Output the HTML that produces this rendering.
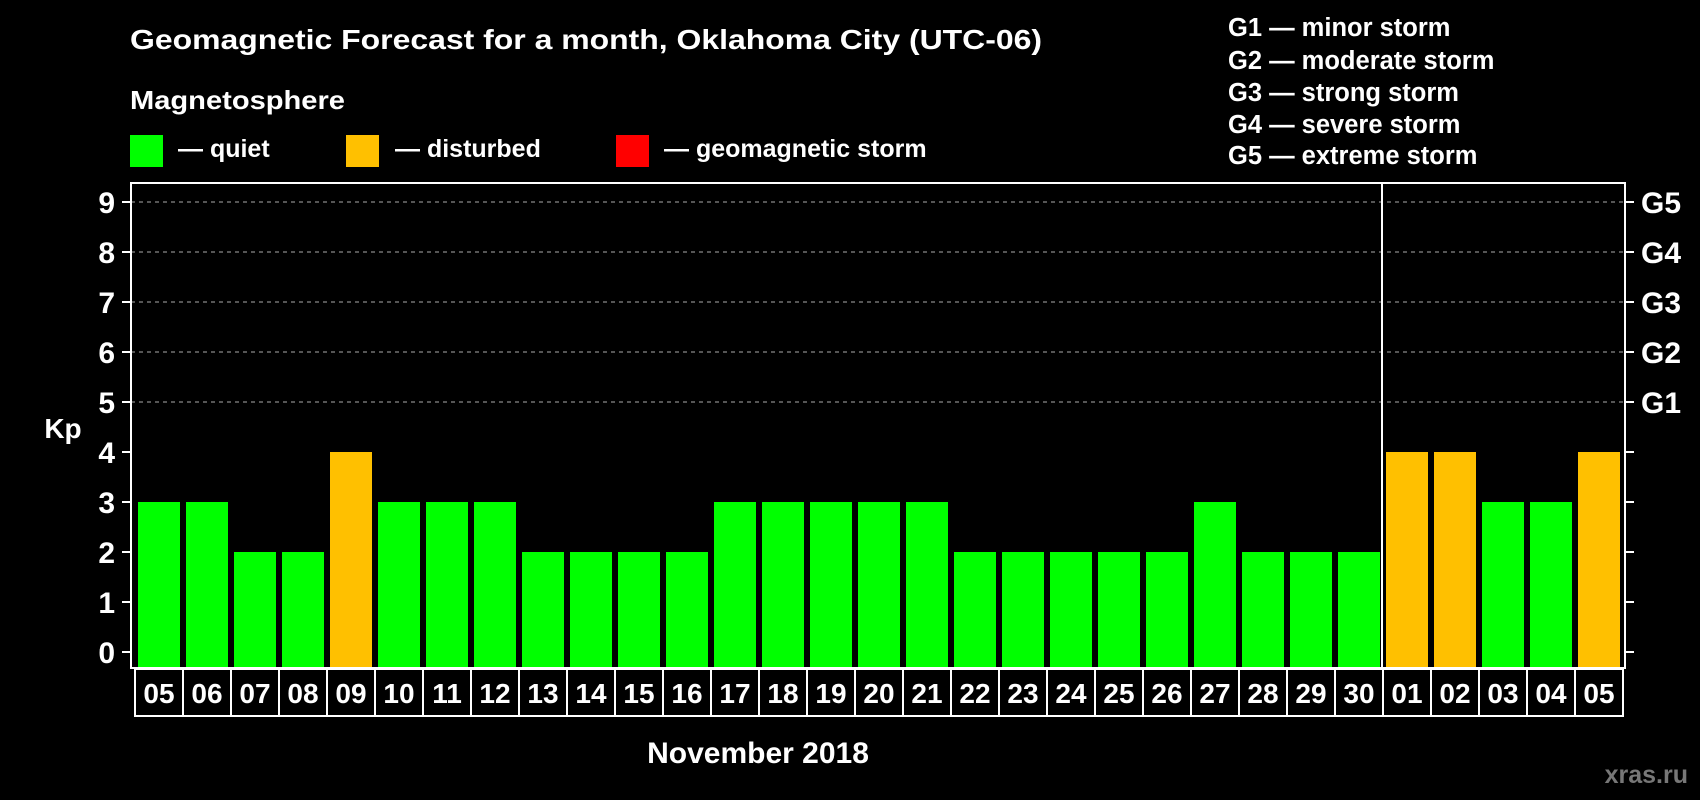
<!DOCTYPE html>
<html><head><meta charset="utf-8"><style>
html,body{margin:0;padding:0;background:#000;width:1700px;height:800px;overflow:hidden}
text{font-family:"Liberation Sans",Arial,sans-serif;font-weight:bold;fill:#fff}
</style></head><body>
<svg id="chart" width="1700" height="800" viewBox="0 0 1700 800">
<text x="130" y="49" font-size="28" textLength="912" lengthAdjust="spacingAndGlyphs">Geomagnetic Forecast for a month, Oklahoma City (UTC-06)</text>
<text x="130" y="109" font-size="26" textLength="215" lengthAdjust="spacingAndGlyphs">Magnetosphere</text>
<g>
<rect x="130" y="135" width="33" height="32" fill="#00ff00"/>
<text x="178" y="157" font-size="25">— quiet</text>
<rect x="346" y="135" width="33" height="32" fill="#ffc000"/>
<text x="395" y="157" font-size="25">— disturbed</text>
<rect x="616" y="135" width="33" height="32" fill="#ff0000"/>
<text x="664" y="157" font-size="25">— geomagnetic storm</text>
</g>
<g>
<text x="1228" y="36" font-size="25.5">G1 — minor storm</text>
<text x="1228" y="69" font-size="25.5">G2 — moderate storm</text>
<text x="1228" y="101" font-size="25.5">G3 — strong storm</text>
<text x="1228" y="133" font-size="25.5">G4 — severe storm</text>
<text x="1228" y="164" font-size="25.5">G5 — extreme storm</text>
</g>
<text x="63" y="438" font-size="28" text-anchor="middle">Kp</text>
<text x="758" y="763" font-size="30" text-anchor="middle">November 2018</text>
<text x="1688" y="783" font-size="25" text-anchor="end" style="fill:#777">xras.ru</text>
<g id="grid"></g><g id="bars"></g><g id="axes"></g>
</svg>
<script>
const days = ["05","06","07","08","09","10","11","12","13","14","15","16","17","18","19","20","21","22","23","24","25","26","27","28","29","30","01","02","03","04","05"];
const kpValues = [3,3,2,2,4,3,3,3,2,2,2,2,3,3,3,3,3,2,2,2,2,2,3,2,2,2,4,4,3,3,4];
const yTicks = [0,1,2,3,4,5,6,7,8,9];
const gLabels = ["G1","G2","G3","G4","G5"];
const gLevels = [5,6,7,8,9];
const monthBreakIndex = 26;
const NS="http://www.w3.org/2000/svg";
const L=131,R=1625,T=183,B=668,slot0=134,slotW=48;
function y(v){return 652 - v*50;}
function xs(i){return slot0 + i*slotW;}
function color(v){return v>=5?"#ff0000":(v>=4?"#ffc000":"#00ff00");}
function mk(tag,attrs,parent){const e=document.createElementNS(NS,tag);for(const k in attrs)e.setAttribute(k,attrs[k]);parent.appendChild(e);return e;}
const grid=document.getElementById('grid'),bars=document.getElementById('bars'),axes=document.getElementById('axes');
gLevels.forEach((v,i)=>{
  const l=mk('line',{x1:L,x2:R,y1:y(v),y2:y(v),stroke:'#888','stroke-width':1.2,'stroke-dasharray':'4 4'},grid);
  
  
  const t=mk('text',{x:1641,y:y(v)+11,'font-size':30},axes);
  t.textContent=gLabels[i];
  
  
});
kpValues.forEach((v,i)=>{
  const r=mk('rect',{x:xs(i)+4,y:y(v),width:42,height:B-y(v),fill:color(v)},bars);
  
  
  const bx=mk('rect',{x:xs(i)+1,y:B+1,width:slotW,height:47,fill:'none',stroke:'#fff','stroke-width':2},axes);
  
  
  const t=mk('text',{x:xs(i)+25,y:B+35,'font-size':28,'text-anchor':'middle'},axes);
  t.textContent=days[i];
  
  
});
const fr=mk('rect',{x:L,y:T,width:R-L,height:B-T,fill:'none',stroke:'#fff','stroke-width':2},axes);


const dv=mk('line',{x1:xs(monthBreakIndex),x2:xs(monthBreakIndex),y1:T,y2:B,stroke:'#fff','stroke-width':2},axes);


yTicks.forEach(v=>{
  const a=mk('line',{x1:122,x2:L,y1:y(v),y2:y(v),stroke:'#fff','stroke-width':2},axes);
  
  
  const b=mk('line',{x1:R,x2:1634,y1:y(v),y2:y(v),stroke:'#fff','stroke-width':2},axes);
  
  
  const t=mk('text',{x:115,y:y(v)+11,'font-size':30,'text-anchor':'end'},axes);
  t.textContent=v;
  
  
});
</script>
</body></html>
